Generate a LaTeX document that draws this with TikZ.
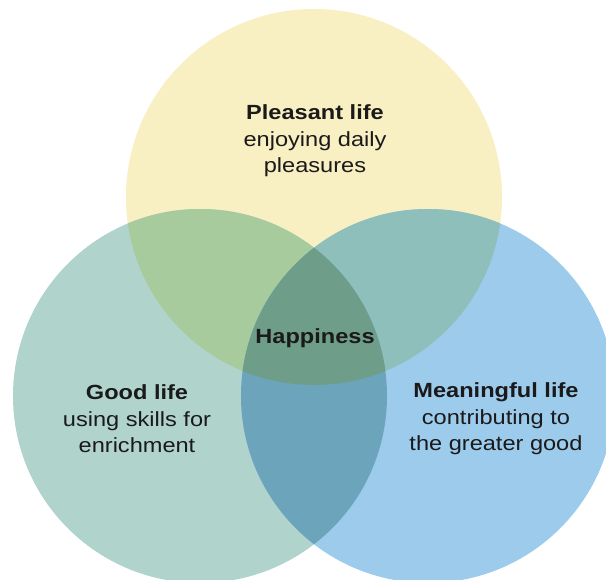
\documentclass[tikz,border=0pt]{standalone}
\usepackage{fontspec}
\setmainfont{Liberation Sans}
\definecolor{cY}{HTML}{F8EFC2}
\definecolor{cL}{HTML}{B0D4CC}
\definecolor{cR}{HTML}{9DCBEC}
\definecolor{cYL}{HTML}{A8CB9E}
\definecolor{cYR}{HTML}{8EBFBA}
\definecolor{cLR}{HTML}{6CA4BC}
\definecolor{cAll}{HTML}{6E9E8A}
\definecolor{txt}{HTML}{1A1A1A}
\tikzset{
  lbl/.style={align=center, text=txt, font=\fontsize{20.5}{26.5}\selectfont, inner sep=0pt, xscale=1.15, transform shape}
}
\begin{document}
\begin{tikzpicture}[x=1pt,y=-1pt]
\useasboundingbox (0,0) rectangle (606,580);
\fill[white] (0,0) rectangle (606,580);
\def\cTop{(314,197) circle (188)}
\def\cLeft{(200,396) circle (187)}
\def\cRight{(428,396) circle (187)}
% single circles
\fill[cY] \cTop;
\fill[cL] \cLeft;
\fill[cR] \cRight;
% pairwise overlaps
\begin{scope}
  \clip \cTop;
  \fill[cYL] \cLeft;
  \fill[cYR] \cRight;
\end{scope}
\begin{scope}
  \clip \cLeft;
  \fill[cLR] \cRight;
  \clip \cRight;
  \fill[cAll] \cTop;
\end{scope}
% labels
\node[lbl] (pleasant) at (315,141) {\textbf{Pleasant life}\\enjoying daily\\pleasures};
\node[lbl] (happy) at (315,338) {\textbf{Happiness}};
\node[lbl] (good) at (137,419) {\textbf{Good life}\\using skills for\\enrichment};
\node[lbl] (meaning) at (496,419) {\textbf{Meaningful life}\\contributing to\\the greater good};
\end{tikzpicture}
\end{document}
